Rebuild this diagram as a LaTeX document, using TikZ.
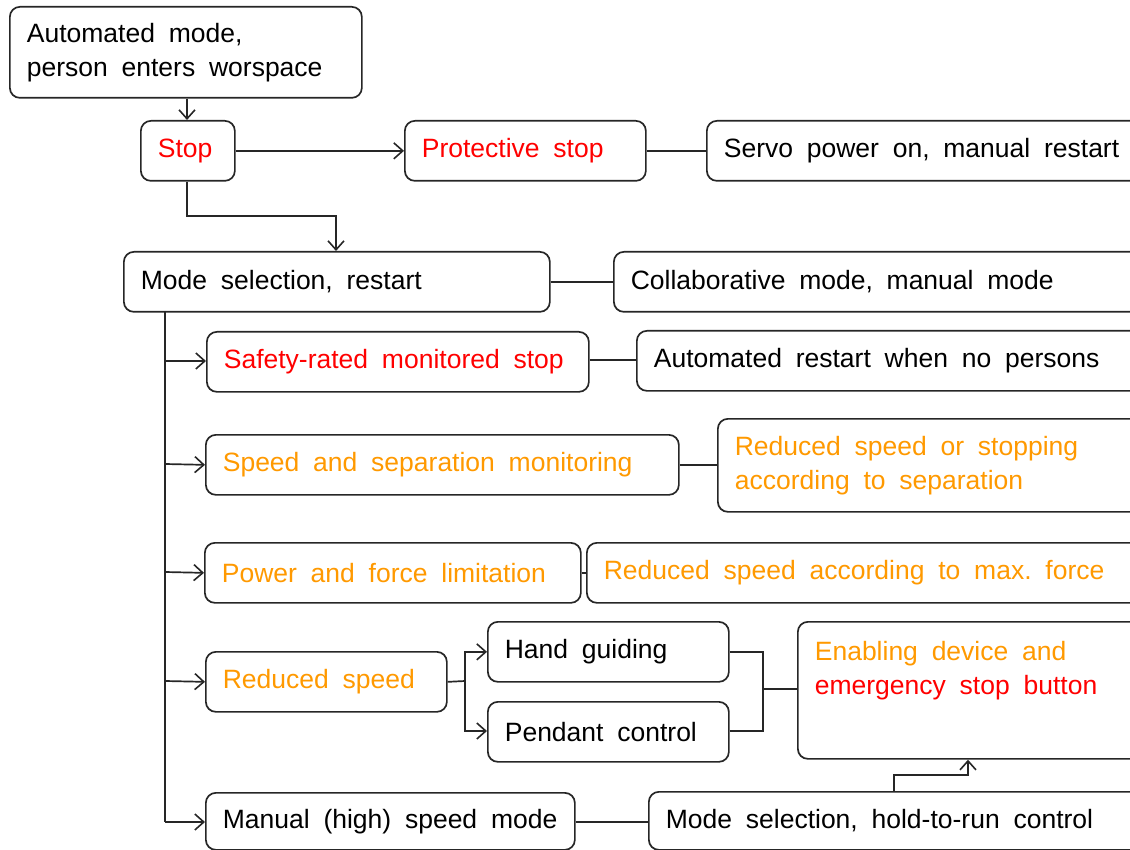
\documentclass[tikz,border=0pt]{standalone}
\usepackage{fontspec}
\setmainfont{Liberation Sans}
\usetikzlibrary{arrows.meta}
\definecolor{alarmred}{RGB}{255,0,0}
\definecolor{warnorange}{RGB}{255,153,0}
\newcommand\widespaces{\frenchspacing\spaceskip=0.52em\relax}
\begin{document}
\begin{tikzpicture}[x=1pt,y=-1pt,
  box/.style={draw=black!85, line width=1.7pt, rounded corners=10pt,
    anchor=north west, inner xsep=17pt, inner ysep=0pt, align=left,
    font=\fontsize{26.5}{34}\selectfont,
    execute at begin node=\widespaces},
  link/.style={draw=black!85, line width=1.7pt},
  flow/.style={link, -{Straight Barb[length=9pt,width=16pt,line width=1.6pt]}},
  alarm/.style={text=alarmred},
  warn/.style={text=warnorange}]
\useasboundingbox (0,0) rectangle (1130,850);
\clip (0,0) rectangle (1130,850);

% entry and stop
\node[box, text width=318pt, minimum height=91pt] (auto) at (9,6)
  {Automated mode,\\person enters worspace};
\node[box, alarm, text width=60pt, minimum height=60pt] (stop) at (140,120) {Stop};
\node[box, alarm, text width=207pt, minimum height=60pt] (prot) at (404,120) {Protective stop};
\node[box, text width=416pt, minimum height=60pt] (servo) at (706,120)
  {Servo power on, manual restart};

% mode selection
\node[box, text width=392pt, minimum height=60pt] (mode) at (123,251)
  {Mode selection, restart};
\node[box, text width=506pt, minimum height=60pt] (collab) at (613,251)
  {Collaborative mode, manual mode};

% collaborative operation branches
\node[box, alarm, text width=348pt, minimum height=60pt] (srms) at (206,331)
  {Safety-rated monitored stop};
\node[box, text width=486pt, minimum height=60pt] (autor) at (636,330)
  {Automated restart when no persons};
\node[box, warn, text width=439pt, minimum height=60pt] (ssm) at (205,434)
  {Speed and separation monitoring};
\node[box, warn, text width=406pt, minimum height=93pt] (redsep) at (717,418)
  {Reduced speed or stopping\\according to separation};
\node[box, warn, text width=342pt, minimum height=60pt] (pfl) at (204,542)
  {Power and force limitation};
\node[box, warn, text width=536pt, minimum height=60pt] (redf) at (586,542)
  {Reduced speed according to max. force};
\node[box, warn, text width=207pt, minimum height=60pt] (rs) at (205,651)
  {Reduced speed};
\node[box, text width=207pt, minimum height=60pt] (hand) at (487,621)
  {Hand guiding};
\node[box, text width=207pt, minimum height=60pt] (pend) at (487,701)
  {Pendant control};
\node[box, text width=326pt, minimum height=137pt] (enab) at (797,621)
  {\textcolor{warnorange}{Enabling device and}\\
   \textcolor{alarmred}{emergency stop button}\\ \strut};
\node[box, text width=335pt, minimum height=57pt] (manual) at (205,792)
  {\mbox{Manual (high) speed mode}};
\node[box, text width=476pt, minimum height=58pt] (hold) at (648,791)
  {Mode selection, hold-to-run control};

% junction points
\coordinate (trunk) at (165,311);
\coordinate (split) at (465,681);
\coordinate (merge) at (763,689);

% connectors
\draw[flow] (auto.south -| 187,0) -- (stop.north -| 187,0);
\draw[flow] (stop.east) -- (prot.west);
\draw[flow] (stop.south -| 187,0) |- (336,216) -- (mode.north -| 336,0);
\draw[link] (prot.east) -- (servo.west);
\draw[link] (mode.east |- 0,282) -- (collab.west |- 0,282);

\draw[link] (trunk) -- (165,822);
\draw[flow] (165,361) -- (srms.west |- 0,361);
\draw[flow] (165,464) -- (ssm.west);
\draw[flow] (165,572) -- (pfl.west);
\draw[flow] (165,681) -- (rs.west);
\draw[flow] (165,822) -- (manual.west |- 0,822);

\draw[link] (srms.east |- 0,360) -- (autor.west |- 0,360);
\draw[link] (ssm.east) -- (redsep.west |- ssm.east);
\draw[link] (pfl.east) -- (redf.west);

\draw[link] (rs.east) -- (split);
\draw[flow] (split) |- (hand.west);
\draw[flow] (split) |- (pend.west |- 0,731);
\draw[link] (hand.east) -| (merge);
\draw[link] (pend.east |- 0,731) -| (merge);
\draw[link] (merge) -- (enab.west |- merge);

\draw[link] (manual.east |- 0,822) -- (hold.west |- 0,822);
\draw[flow] (hold.north -| 894,0) |- (968,775) -- (enab.south -| 968,0);
\end{tikzpicture}
\end{document}
